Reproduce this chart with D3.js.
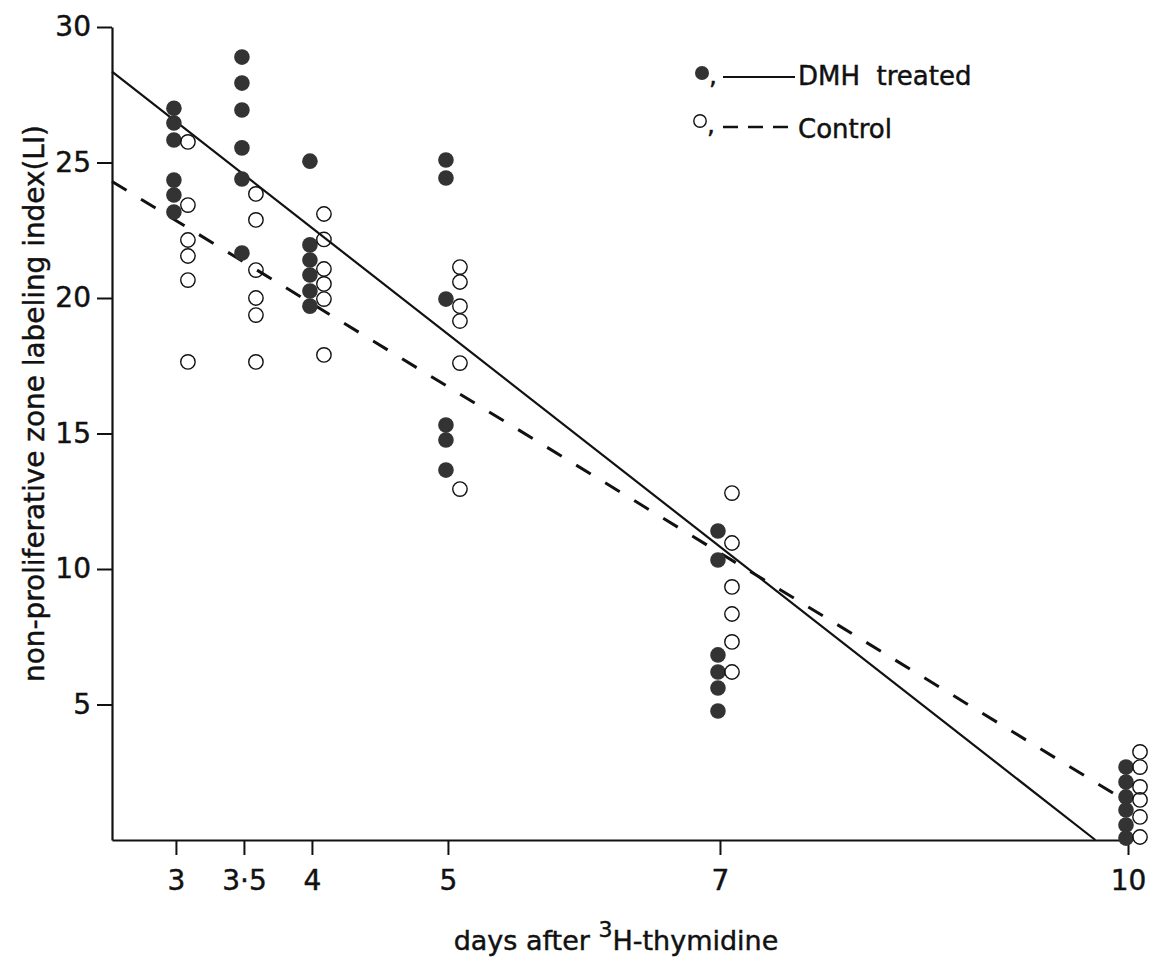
<!DOCTYPE html>
<html>
<head>
<meta charset="utf-8">
<script src="https://cdn.jsdelivr.net/npm/d3@7"></script>
<style>
  html, body { margin: 0; padding: 0; background: #fff; }
  svg { display: block; }
  text { font-family: "DejaVu Sans", "Liberation Sans", sans-serif; fill: #111; stroke: #111; stroke-width: 0.45px; }
</style>
</head>
<body>
<svg id="chart" width="1153" height="961"></svg>
<script>
// ---- data ----
const days = [3, 3.5, 4, 5, 7, 10];
const dmhLI = [
  [27.0, 26.46, 25.83, 24.35, 23.8, 23.17],
  [28.89, 27.93, 26.94, 25.54, 24.39, 21.66],
  [25.05, 21.96, 21.4, 20.85, 20.26, 19.7],
  [25.09, 24.43, 19.96, 15.31, 14.76, 13.65],
  [11.4, 10.33, 6.83, 6.2, 5.61, 4.76],
  [2.69, 2.14, 1.59, 1.11, 0.55, 0.07]
];
const controlLI = [
  [25.76, 23.43, 22.14, 21.55, 20.66, 17.64],
  [23.84, 22.88, 21.03, 20.0, 19.37, 17.64],
  [23.1, 22.16, 21.07, 20.52, 19.96, 17.9],
  [21.14, 20.59, 19.7, 19.15, 17.6, 12.95],
  [12.8, 10.96, 9.34, 8.34, 7.31, 6.2],
  [3.25, 2.69, 1.96, 1.48, 0.85, 0.11]
];
const dmhFit = [[2.53, 28.35], [9.76, 0]];
const controlFit = [[2.53, 24.3], [9.89, 1.73]];
const xTickValues = [3, 3.5, 4, 5, 7, 10];
const xTickLabels = ["3", "3·5", "4", "5", "7", "10"];
const yTickValues = [5, 10, 15, 20, 25, 30];
const seriesNames = ["DMH  treated", "Control"];
const yTitle = "non-proliferative zone labeling index(LI)";

// ---- drawing ----
const svg = d3.select("#chart");
svg.append("rect").attr("width", 1153).attr("height", 961).attr("fill", "#fff");

const x = d3.scaleLinear().domain([2.53, 10]).range([112, 1128]);
const y = d3.scaleLinear().domain([0, 30]).range([840, 27]);

const gx = svg.append("g").attr("transform", `translate(0,${y(0)})`)
  .call(d3.axisBottom(x).tickValues(xTickValues)
    .tickFormat((d, i) => xTickLabels[i])
    .tickSize(15).tickSizeOuter(0).tickPadding(15));
const gy = svg.append("g").attr("transform", `translate(${x(2.53)},0)`)
  .call(d3.axisLeft(y).tickValues(yTickValues)
    .tickSize(15).tickSizeOuter(0).tickPadding(6));

[gx, gy].forEach(g => {
  g.select(".domain").attr("stroke", "#111").attr("stroke-width", 2.2);
  g.selectAll(".tick line").attr("stroke", "#111").attr("stroke-width", 2);
  g.selectAll(".tick text").attr("font-size", 28)
    .attr("font-family", "DejaVu Sans, sans-serif").attr("fill", "#111");
});

// regression lines
const line = d3.line().x(d => x(d[0])).y(d => y(d[1]));
svg.append("path").datum(dmhFit).attr("d", line)
  .attr("fill", "none").attr("stroke", "#111").attr("stroke-width", 2.2);
svg.append("path").datum(controlFit).attr("d", line)
  .attr("fill", "none").attr("stroke", "#111").attr("stroke-width", 3)
  .attr("stroke-dasharray", "17 17");

// points
const dmhPts = days.flatMap((d, i) => dmhLI[i].map(v => ({ day: d, v })));
const ctlPts = days.flatMap((d, i) => controlLI[i].map(v => ({ day: d, v })));
const dodgeFilled = -2, dodgeOpen = 12;

svg.append("g").selectAll("circle").data(dmhPts).join("circle")
  .attr("cx", d => x(d.day) + dodgeFilled).attr("cy", d => y(d.v))
  .attr("r", 7.8).attr("fill", "#333");
svg.append("g").selectAll("circle").data(ctlPts).join("circle")
  .attr("cx", d => x(d.day) + dodgeOpen).attr("cy", d => y(d.v))
  .attr("r", 7.2).attr("fill", "none").attr("stroke", "#111").attr("stroke-width", 1.4);

// axis titles
svg.append("text")
  .attr("transform", "translate(44,403.5) rotate(-90)")
  .attr("text-anchor", "middle").attr("font-size", 28)
  .attr("textLength", 557).attr("lengthAdjust", "spacingAndGlyphs")
  .text(yTitle);

const xt = svg.append("text").attr("x", 616).attr("y", 950)
  .attr("text-anchor", "middle").attr("font-size", 27);
xt.append("tspan").text("days after ");
xt.append("tspan").attr("font-size", 22).attr("dy", -13).text("3");
xt.append("tspan").attr("dy", 13).text("H-thymidine");

// legend
const lg = svg.append("g");
lg.append("circle").attr("cx", 702).attr("cy", 73).attr("r", 7).attr("fill", "#333");
lg.append("text").attr("x", 709).attr("y", 84).attr("font-size", 25).text(",");
lg.append("line").attr("x1", 723).attr("x2", 795).attr("y1", 77).attr("y2", 77)
  .attr("stroke", "#111").attr("stroke-width", 2.2);
lg.append("text").attr("x", 798).attr("y", 85).attr("font-size", 26)
  .style("white-space", "pre").text(seriesNames[0]);

lg.append("circle").attr("cx", 700).attr("cy", 121).attr("r", 6.2)
  .attr("fill", "none").attr("stroke", "#111").attr("stroke-width", 1.4);
lg.append("text").attr("x", 707).attr("y", 133).attr("font-size", 25).text(",");
lg.append("line").attr("x1", 723).attr("x2", 795).attr("y1", 127).attr("y2", 127)
  .attr("stroke", "#111").attr("stroke-width", 2.6).attr("stroke-dasharray", "15 10");
lg.append("text").attr("x", 798).attr("y", 138).attr("font-size", 26).text(seriesNames[1]);
</script>
</body>
</html>
